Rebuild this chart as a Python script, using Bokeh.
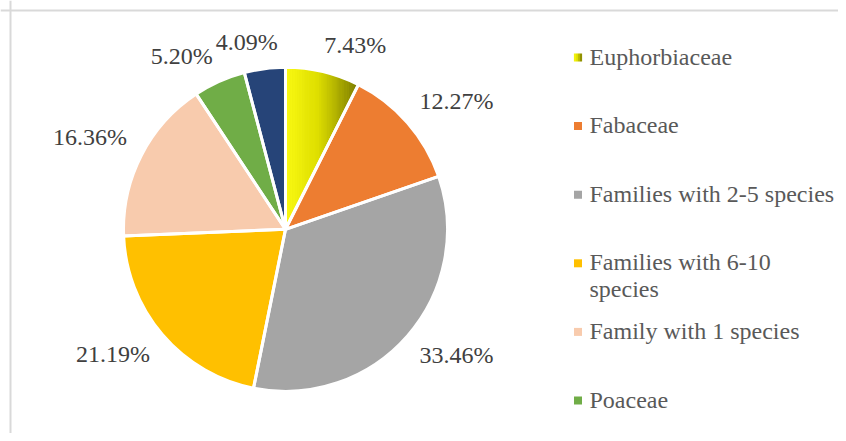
import numpy as np
from bokeh.plotting import figure
from bokeh.models import Range1d, Span, ColumnDataSource
from bokeh.core.properties import value
from bokeh.embed import file_html
from bokeh.resources import INLINE

# ---------------- data ----------------
categories = ["Euphorbiaceae", "Fabaceae", "Families with 2-5 species",
              "Families with 6-10 species", "Family with 1 species", "Poaceae",
              "Other"]
shares = [7.43, 12.27, 33.46, 21.19, 16.36, 5.20, 4.09]
legend_labels = ["Euphorbiaceae", "Fabaceae", "Families with 2-5 species",
                 "Families with 6-10\nspecies", "Family with 1 species", "Poaceae"]

# ---------------- style ----------------
colors = ["#E6E600", "#ED7D31", "#A5A5A5", "#FFC000", "#F8CBAD", "#70AD47", "#264478"]
grad_stops = [(0.0, (250, 250, 20)), (0.45, (222, 222, 0)), (1.0, (122, 122, 0))]
FONT = "Liberation Serif"

W, H = 838, 433
TEXT_DY = 9  # baseline correction (px, upward)


def sx(X):
    return X


def sy(Y):
    return H - Y


CX, CY, R = sx(285), sy(228.8), 162.0

p = figure(width=W, height=H, x_range=Range1d(0, W), y_range=Range1d(0, H),
           output_backend="svg", toolbar_location=None, min_border=0,
           x_axis_location=None, y_axis_location=None)
p.grid.visible = False
p.outline_line_color = None
p.background_fill_color = "white"
p.border_fill_color = "white"

vals = np.array(shares, dtype=float)
frac = vals / vals.sum()
cum = np.cumsum(frac)
a_top = np.pi / 2 - 2 * np.pi * (cum - frac)
a_bot = np.pi / 2 - 2 * np.pi * cum

# chart border (cropped frame)
p.add_layout(Span(location=sx(10), dimension="height", line_color="#D9D9D9", line_width=2))
p.add_layout(Span(location=sy(10), dimension="width", line_color="#D9D9D9", line_width=2))

src = ColumnDataSource(dict(start=a_bot, end=a_top, color=colors, cat=categories))
p.wedge(x=CX, y=CY, radius=R, start_angle="start", end_angle="end",
        fill_color="color", line_color=None, source=src)


# gradient on the first slice (horizontal)
def grad_color(t):
    for (t0, c0), (t1, c1) in zip(grad_stops[:-1], grad_stops[1:]):
        if t <= t1:
            f = (t - t0) / (t1 - t0) if t1 > t0 else 0
            c = [int(round(c0[k] + f * (c1[k] - c0[k]))) for k in range(3)]
            return "#%02x%02x%02x" % tuple(c)
    return "#%02x%02x%02x" % grad_stops[-1][1]


def clip(poly, x0, keep_greater):
    out = []
    n = len(poly)
    for i in range(n):
        P, Q = poly[i], poly[(i + 1) % n]
        inP = P[0] >= x0 if keep_greater else P[0] <= x0
        inQ = Q[0] >= x0 if keep_greater else Q[0] <= x0
        if inP:
            out.append(P)
        if inP != inQ:
            t = (x0 - P[0]) / (Q[0] - P[0])
            out.append((x0, P[1] + t * (Q[1] - P[1])))
    return out


ang = np.linspace(a_bot[0], a_top[0], 80)
sector = [(CX, CY)] + [(CX + R * np.cos(a), CY + R * np.sin(a)) for a in ang]
xmin = min(pt[0] for pt in sector)
xmax = max(pt[0] for pt in sector)
N = 30
gx, gy, gc = [], [], []
for k in range(N):
    x0 = xmin + (xmax - xmin) * k / N
    x1 = xmin + (xmax - xmin) * (k + 1) / N
    poly = clip(clip(sector, x0, True), x1, False)
    if len(poly) >= 3:
        gx.append([pt[0] for pt in poly])
        gy.append([pt[1] for pt in poly])
        gc.append(grad_color((k + 0.5) / N))
p.patches(gx, gy, fill_color=gc, line_color=gc, line_width=0.6)

# white separators
p.wedge(x=CX, y=CY, radius=R, start_angle="start", end_angle="end",
        fill_color=None, line_color="white", line_width=3, source=src)

# ---------------- data labels ----------------
lab_x, lab_y, lab_t = [], [], []
for i, v in enumerate(shares):
    txt = "%.2f%%" % v
    nd = sum(ch.isdigit() for ch in txt)
    w = 24 * (0.5 * nd + 0.25 + 0.833)
    th = 2 * np.pi * (cum[i] - frac[i] / 2)
    ux, uy = np.sin(th), np.cos(th)
    cxl = CX + 178 * ux + np.clip(4 * ux, -1, 1) * w / 2
    cyl = CY + 178 * uy + np.clip(4 * uy, -1, 1) * 10
    lab_x.append(cxl)
    lab_y.append(cyl - 8 + TEXT_DY)
    lab_t.append(txt)
p.text(x=lab_x, y=lab_y, text=lab_t, text_font=value(FONT), text_font_size="24px",
       text_color="#404040", text_align="center", text_baseline="alphabetic")

# ---------------- legend ----------------
leg_tx, leg_ty, leg_tt = [], [], []
mk_x, mk_y, mk_c, mk_w = [], [], [], []
for k, lab in enumerate(legend_labels):
    base = 65 + 68.6 * k
    for j, line in enumerate(lab.split("\n")):
        leg_tx.append(sx(589))
        leg_ty.append(sy(base + 27 * j) + TEXT_DY)
        leg_tt.append(line)
    my = sy(base - 8)
    if k == 0:
        for s in range(4):
            mk_x.append(sx(573.5 + 2 * s + 1))
            mk_y.append(my)
            mk_c.append(grad_color((s + 0.5) / 4))
            mk_w.append(2.2)
    else:
        mk_x.append(sx(577.5))
        mk_y.append(my)
        mk_c.append(colors[k])
        mk_w.append(8)
p.rect(x=mk_x, y=mk_y, width=mk_w, height=8, fill_color=mk_c, line_color=None)
p.text(x=leg_tx, y=leg_ty, text=leg_tt, text_font=value(FONT), text_font_size="24px",
       text_color="#595959", text_align="left", text_baseline="alphabetic")

open("out.html", "w").write(file_html(p, INLINE))
